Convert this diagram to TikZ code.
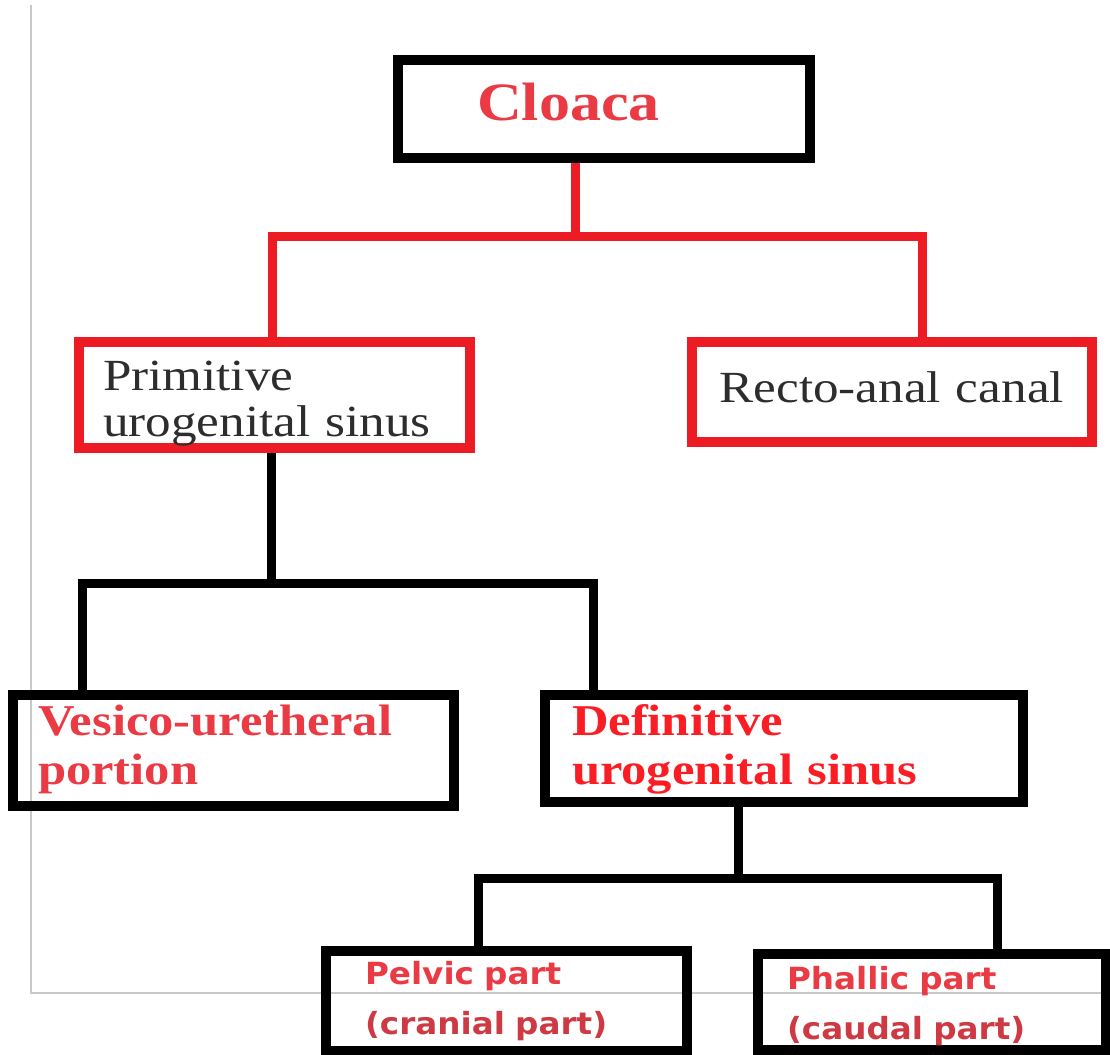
\documentclass[tikz,border=0pt]{standalone}
\usepackage{fontspec}
\setmainfont{Liberation Serif}[FakeStretch=1.15]
\newfontfamily\labelsans{DejaVu Sans}[FakeStretch=1.07]

\definecolor{linered}{RGB}{237,28,36}
\definecolor{textred}{RGB}{234,58,68}
\definecolor{deepred}{RGB}{250,30,36}
\definecolor{darkred}{RGB}{205,58,68}
\definecolor{textgray}{RGB}{45,45,45}
\definecolor{framegray}{RGB}{200,200,200}

\tikzset{
  box/.style={draw, line width=10pt, inner ysep=0pt, align=left},
  redbox/.style={box, draw=linered},
  blackbox/.style={box, draw=black},
  redline/.style={draw=linered, line width=9pt},
  blackline/.style={draw=black, line width=9pt},
  serifplain/.style={font=\fontsize{44.5}{46}\selectfont, text=textgray},
  serifbold/.style={font=\fontsize{44}{49}\selectfont\bfseries},
  sansbold/.style={font=\labelsans\fontsize{30.5}{50}\selectfont\bfseries},
}

\begin{document}
\begin{tikzpicture}[x=1pt, y=-1pt]
    \useasboundingbox (0,0) rectangle (1110,1054);

    % thin page edge
    \draw[framegray, line width=2pt] (31,5) -- (31,993) -- (1110,993);

    % boxes
    \node[blackbox, minimum width=412pt, minimum height=98pt, text width=254pt,
          inner xsep=79pt, text height=61pt, text depth=37pt,
          font=\fontsize{54}{60}\selectfont\bfseries, text=textred]
          (cloaca) at (604,109) {Cloaca};

    \node[redbox, serifplain, minimum width=391pt, minimum height=106pt, text width=343pt,
          inner xsep=24pt, text height=48pt, text depth=58pt]
          (primitive) at (274.5,395) {Primitive\\urogenital sinus};
    \node[redbox, serifplain, minimum width=400.5pt, minimum height=100pt, text width=344.5pt,
          inner xsep=28pt, text height=60.5pt, text depth=39.5pt]
          (recto) at (891.75,391.5) {Recto-anal canal};

    \node[blackbox, serifbold, text=textred, minimum width=441pt, minimum height=111pt,
          text width=391pt, inner xsep=25pt, text height=40pt, text depth=71pt]
          (vesico) at (233.5,750.5) {Vesico-uretheral\\portion};
    \node[blackbox, serifbold, text=deepred, minimum width=478pt, minimum height=107pt,
          text width=424pt, inner xsep=27pt, text height=40pt, text depth=67pt]
          (definitive) at (784,748.5) {Definitive\\urogenital sinus};

    \node[blackbox, sansbold, minimum width=361pt, minimum height=100pt, text width=283pt,
          inner xsep=39pt, text height=33pt, text depth=67pt]
          (pelvic) at (506.5,1001) {\textcolor{textred}{Pelvic part}\\\textcolor{darkred}{(cranial part)}};
    \node[blackbox, sansbold, minimum width=348pt, minimum height=96pt, text width=290pt,
          inner xsep=29pt, text height=35pt, text depth=61pt]
          (phallic) at (932,1002) {\textcolor{textred}{Phallic part}\\\textcolor{darkred}{(caudal part)}};

    % junction points
    \coordinate (split1) at (575,236);
    \coordinate (pl) at (272,236);
    \coordinate (pr) at (922,236);
    \coordinate (split2) at (271,583);
    \coordinate (bl) at (82,583);
    \coordinate (br) at (593,583);
    \coordinate (split3) at (738,878);
    \coordinate (cl) at (478,878);
    \coordinate (cr) at (997,878);

    % connectors
    \draw[redline] (cloaca.south -| split1) -- (split1);
    \draw[redline] (primitive.north -| pl) -- (pl) -- (pr) -- (recto.north -| pr);

    \draw[blackline] (primitive.south -| split2) -- (split2);
    \draw[blackline] (vesico.north -| bl) -- (bl) -- (br) -- (definitive.north -| br);

    \draw[blackline] (definitive.south -| split3) -- (split3);
    \draw[blackline] (pelvic.north -| cl) -- (cl) -- (cr) -- (phallic.north -| cr);
\end{tikzpicture}
\end{document}
